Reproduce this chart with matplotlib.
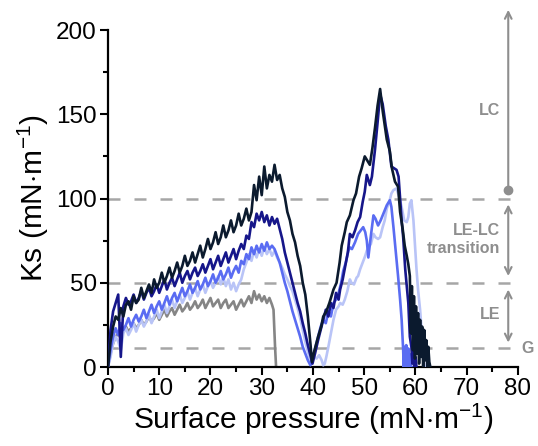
import numpy as np
import matplotlib
matplotlib.use("Agg")
import matplotlib.pyplot as plt
from matplotlib.ticker import MultipleLocator

plt.rcParams['font.family'] = ['Liberation Sans', 'DejaVu Sans']
plt.rcParams['mathtext.fontset'] = 'custom'
plt.rcParams['mathtext.rm'] = 'Liberation Sans'
plt.rcParams['mathtext.it'] = 'Liberation Sans'

# ---------------- data ----------------
# common sampling grid for the first (noisy) hump
grid1 = np.arange(0, 40.0, 0.5)

black_y1 = [0, 15, 24, 30, 28, 35, 30, 37, 39, 34,
            42, 38, 40, 47, 41, 45, 49, 44, 52, 47,
            50, 56, 50, 54, 59, 53, 57, 62, 56, 60,
            66, 60, 63, 68, 62, 67, 72, 65, 70, 76,
            70, 74, 80, 73, 77, 84, 77, 81, 87, 80,
            84, 91, 84, 88, 94, 87, 92, 108, 99, 113,
            102, 119, 106, 114, 110, 120, 111, 114, 106, 101,
            92, 87, 79, 74, 66, 60, 50, 43, 30, 14]
black_x2 = [39.8, 40.3, 41, 41.6, 42, 42.6, 43.2, 44, 44.6, 45.2, 45.6, 46.2, 46.6, 47.2, 47.9,
            48.4, 49, 49.5, 50.1, 50.5, 51.1, 51.6, 52.1, 52.6, 53.1, 53.6, 54.4, 55, 55.4, 56,
            56.6, 57, 57.5, 57.9, 58.3, 58.6, 58.9,
            59.1, 59.3, 59.5, 59.7, 59.9, 60.1, 60.3, 60.5, 60.7, 60.9, 61.1, 61.3, 61.5, 61.7,
            61.9, 62.1, 62.3, 62.5, 62.7, 62.9]
black_y2 = [3, 10, 18, 24, 30, 33, 38, 46, 50, 62, 72, 80, 86, 90, 99,
            103, 113, 118, 125, 123, 120, 130, 142, 155, 165, 152, 135, 128, 118, 110,
            107, 92, 82, 72, 66, 61, 54,
            20, 48, 10, 42, 5, 36, 8, 32, 2, 28, 6, 24, 0, 22,
            4, 16, 0, 12, 3, 0]

navy_y1 = [0, 22, 33, 38, 43, 6, 36, 41, 37, 39,
           43, 38, 41, 45, 40, 44, 47, 42, 45, 49,
           44, 48, 52, 46, 50, 53, 48, 52, 56, 50,
           54, 57, 52, 56, 59, 54, 57, 61, 56, 60,
           64, 58, 62, 66, 60, 64, 68, 62, 66, 70,
           64, 69, 73, 70, 78, 76, 86, 83, 91, 87,
           92, 86, 90, 84, 89, 85, 88, 82, 76, 68,
           62, 56, 50, 44, 38, 33, 26, 20, 13, 7]
navy_x2 = [39.9, 40.4, 41, 41.5, 42, 42.5, 43, 43.5, 44, 44.5, 45, 45.3, 45.8, 46.3, 46.8,
           47.2, 47.7, 48.2, 48.7, 49.2, 49.7, 50.1, 50.5, 51.1, 51.5, 52.1, 52.6, 53.1, 53.6,
           54.2, 54.7, 55.3, 55.8, 56.3, 56.7, 57.0, 57.3, 57.6, 58, 58.3, 58.6, 58.9, 59.2,
           59.4, 59.6, 59.8, 60, 60.2]
navy_y2 = [2, 8, 16, 22, 28, 34, 30, 38, 35, 44, 40, 46, 52, 60, 68,
           79, 77, 81, 86, 89, 98, 104, 114, 108, 113, 129, 145, 162, 156,
           143, 135, 119, 118, 117, 113, 100, 87, 77, 58, 48, 38, 18, 12,
           2, 10, 0, 6, 0]

med_y1 = [0, 10, 18, 23, 19, 26, 22, 25, 29, 24,
          28, 31, 27, 30, 34, 29, 33, 37, 32, 36,
          39, 34, 38, 42, 37, 41, 44, 39, 43, 47,
          42, 45, 49, 44, 47, 51, 46, 49, 53, 48,
          51, 55, 50, 53, 57, 52, 55, 59, 53, 57,
          60, 56, 63, 61, 67, 64, 71, 67, 72, 68,
          73, 69, 74, 70, 72, 70, 66, 62, 56, 50,
          45, 39, 33, 28, 23, 18, 12, 8, 4, 1]
med_x2 = [39.5, 40, 40.5, 41, 41.5, 42, 42.5, 43, 43.5, 44, 44.5, 45, 45.5, 45.9, 46.4,
          46.9, 47.2, 47.6, 48.2, 48.8, 49.3, 49.8, 50.2, 50.5, 50.8, 51.3, 51.8, 52.2, 52.7,
          53.2, 53.6, 54, 54.4, 55, 55.3, 55.7, 56.1, 56.6, 57, 57.3, 57.6,
          57.7, 57.8, 57.9, 58.0, 58.1, 58.2, 58.3, 58.4, 58.5, 58.6, 58.7, 58.8, 58.9, 59.0,
          59.1, 59.2]
med_y2 = [1, 6, 12, 18, 24, 28, 26, 33, 30, 38, 40, 44, 50, 57, 62,
          69, 71, 70, 74, 79, 81, 83, 80, 75, 65, 78, 90, 88, 84,
          87, 90, 93, 96, 99, 95, 83, 70, 54, 40, 28, 10,
          0, 12, 0, 10, 0, 13, 1, 9, 0, 11, 0, 8, 0, 6,
          0, 0]

pale_y1 = [0, 6, 14, 18, 15, 10, 20, 23, 19, 22,
           26, 21, 25, 28, 24, 27, 31, 26, 30, 34,
           29, 33, 37, 32, 36, 40, 35, 39, 43, 38,
           41, 45, 40, 44, 47, 42, 46, 49, 44, 48,
           51, 47, 50, 54, 49, 53, 48, 52, 46, 50,
           45, 49, 52, 58, 62, 67, 63, 69, 65, 70,
           66, 71, 67, 70, 66, 69, 65, 62, 59, 55,
           52, 48, 45, 40, 35, 29, 22, 15, 9, 4]
pale_x2 = [39.7, 40.2, 40.7, 41.2, 41.7, 42, 42.3, 42.6, 43, 43.5, 44, 44.5, 45, 45.3, 45.8,
           46.2, 46.7, 47.2, 47.5, 48, 48.5, 48.8, 49.2, 49.7, 50.2, 50.5, 50.8, 51.3, 51.8,
           52.2, 52.7, 53.1, 53.6, 54, 54.4, 54.9, 55.3, 55.7, 56.3, 56.8, 57.3, 57.8, 58.3,
           58.6, 58.9, 59.2, 59.6, 59.9, 60.2, 60.5, 60.9, 61.2, 61.5, 61.8]
pale_y2 = [4, 6, 5, 7, 4, 1, 2, 6, 12, 20, 28, 34, 36, 38, 37,
           40, 45, 52, 50, 49, 53, 54, 58, 62, 66, 69, 71, 73, 79,
           77, 76, 77, 83, 87, 94, 98, 103, 105, 106, 101, 95, 87, 86,
           89, 97, 99, 87, 72, 58, 46, 34, 22, 6, 0]

gray_x = [0, 0.5, 1, 1.5, 2, 2.5, 3, 3.5, 4, 4.5, 5, 5.5, 6, 6.5, 7, 7.5, 8, 8.5, 9, 9.5,
          10, 10.5, 11, 11.5, 12, 12.5, 13, 13.5, 14, 14.5, 15, 15.5, 16, 16.5, 17, 17.5,
          18, 18.5, 19, 19.5, 20, 20.5, 21, 21.5, 22, 22.5, 23, 23.5, 24, 24.5, 25, 25.5,
          26, 26.5, 27, 27.5, 28, 28.5, 29, 29.5, 30, 30.5, 31, 31.5, 32, 32.3, 32.6, 32.8]
gray_y = [0, 8, 14, 18, 20, 17, 22, 24, 21, 23, 26, 23, 25, 28, 25, 27, 30, 27, 29, 32,
          28, 31, 34, 30, 33, 35, 31, 34, 37, 33, 35, 38, 34, 36, 39, 35,
          37, 40, 35, 38, 41, 36, 38, 40, 35, 38, 40, 35, 37, 39, 34, 37,
          40, 36, 39, 42, 38, 45, 40, 43, 39, 42, 38, 41, 37, 34, 12, 0]

# phase boundaries (dashed lines) and region labels
boundaries = [100, 50, 11]
region_labels = ["LC", "LE-LC\ntransition", "LE"]

c_black = '#0b1a2e'
c_navy = '#16168a'
c_med = '#5a6cf2'
c_pale = '#b9c4f7'
c_gray = '#858585'
c_annot = '#8e8e8e'

# ---------------- figure ----------------
fig = plt.figure(figsize=(5.38, 4.46), dpi=100)
ax = fig.add_axes([0.2007, 0.1771, 0.7621, 0.7556])

for y in boundaries:
    ax.plot([0, 80], [y, y], color='#a6a6a6', lw=1.8, ls=(0, (4.8, 5.6)), zorder=1)

lw = 1.9
ax.plot(gray_x, gray_y, color=c_gray, lw=lw, zorder=2)
ax.plot(np.concatenate([grid1, pale_x2]), pale_y1 + pale_y2, color=c_pale, lw=lw, zorder=3)
ax.plot(np.concatenate([grid1, med_x2]), med_y1 + med_y2, color=c_med, lw=lw, zorder=4)
ax.plot(np.concatenate([grid1, navy_x2]), navy_y1 + navy_y2, color=c_navy, lw=lw, zorder=5)
ax.plot(np.concatenate([grid1, black_x2]), black_y1 + black_y2, color=c_black, lw=lw, zorder=6)

ax.set_xlim(0, 80)
ax.set_ylim(0, 200)
ax.xaxis.set_major_locator(MultipleLocator(10))
ax.xaxis.set_minor_locator(MultipleLocator(5))
ax.yaxis.set_major_locator(MultipleLocator(50))
ax.yaxis.set_minor_locator(MultipleLocator(25))
for s in ['top', 'right']:
    ax.spines[s].set_visible(False)
for s in ['left', 'bottom']:
    ax.spines[s].set_linewidth(1.6)
ax.tick_params(which='major', direction='out', length=6, width=1.5, labelsize=17.5, pad=2)
ax.tick_params(which='minor', direction='out', length=3.5, width=1.5)

ax.set_xlabel(r'Surface pressure (mN$\cdot$m$^{\mathregular{-1}}$)', fontsize=21.5, labelpad=1)
ax.set_ylabel(r'Ks (mN$\cdot$m$^{\mathregular{-1}}$)', fontsize=21.5, labelpad=4)

# ---------------- annotations on the right ----------------
ax_x = 78.1
ax.annotate('', xy=(ax_x, 212), xytext=(ax_x, 105), annotation_clip=False,
            arrowprops=dict(arrowstyle='->', color=c_annot, lw=1.5, shrinkA=0, shrinkB=0,
                            mutation_scale=12))
ax.plot([ax_x], [105], 'o', color=c_annot, ms=6, clip_on=False, zorder=7)
ax.annotate('', xy=(ax_x, 96.5), xytext=(ax_x, 54), annotation_clip=False,
            arrowprops=dict(arrowstyle='<->', color=c_annot, lw=1.5, shrinkA=0, shrinkB=0,
                            mutation_scale=12))
ax.annotate('', xy=(ax_x, 46), xytext=(ax_x, 14.5), annotation_clip=False,
            arrowprops=dict(arrowstyle='<->', color=c_annot, lw=1.5, shrinkA=0, shrinkB=0,
                            mutation_scale=12))

tx = 76.5
fs_ann = 11.5
ax.text(tx, 152, region_labels[0], ha='right', va='center', fontsize=fs_ann, fontweight='bold',
        color=c_annot)
ax.text(tx, 75.5, region_labels[1], ha='right', va='center', fontsize=fs_ann, fontweight='bold',
        color=c_annot, multialignment='right', linespacing=1.25)
ax.text(tx, 31, region_labels[2], ha='right', va='center', fontsize=fs_ann, fontweight='bold',
        color=c_annot)
ax.text(80.6, 11, 'G', ha='left', va='center', fontsize=fs_ann, fontweight='bold',
        color=c_annot, clip_on=False)

fig.savefig('out.png', dpi=100)
